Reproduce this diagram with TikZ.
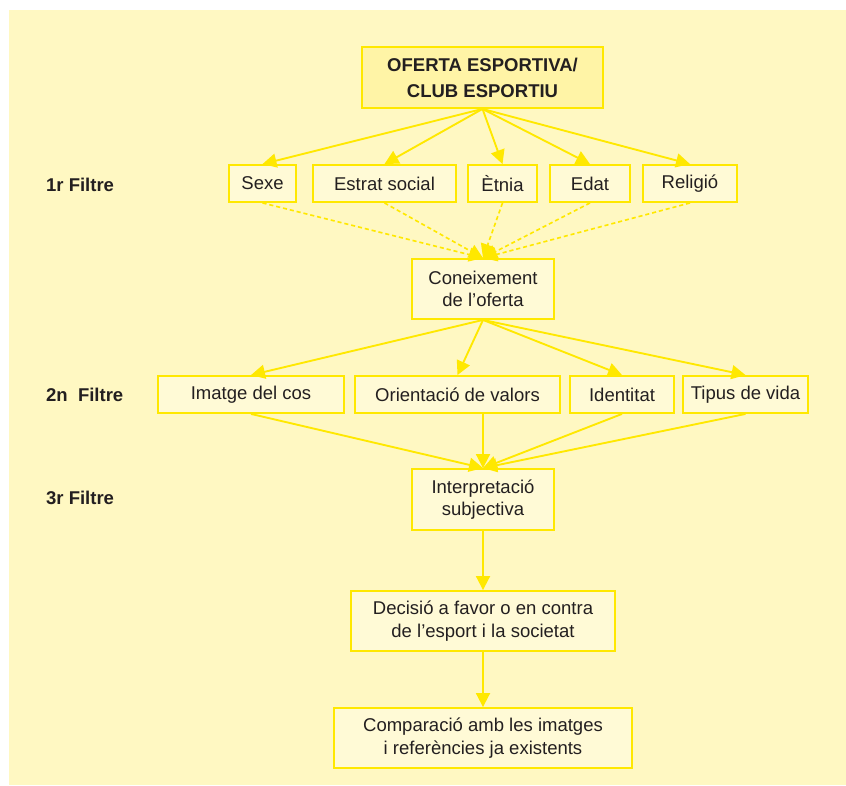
\documentclass[tikz,border=0pt]{standalone}
\usepackage{fontspec}
\setmainfont{Liberation Sans}
\usepackage{tikz}
\usetikzlibrary{arrows.meta}

\newcommand{\pix}{0.03cm}
\definecolor{gelb}{RGB}{255,232,0}
\definecolor{hintergrund}{RGB}{255,248,194}
\definecolor{kasten}{RGB}{255,250,214}
\definecolor{kastenoben}{RGB}{255,244,166}
\definecolor{schrift}{RGB}{35,31,32}

\tikzset{
  kasten/.style={draw=gelb, fill=kasten, line width=1.6pt, inner sep=0pt,
    text=schrift, align=center, font=\fontsize{15.8pt}{19pt}\selectfont},
  filtre/.style={anchor=west, text=schrift, font=\fontsize{15.8pt}{19pt}\selectfont\bfseries},
  pfeil/.style={draw=gelb, line width=1.6pt, -{Triangle[width=0.42cm,length=0.42cm]}},
  punkte/.style={pfeil, line width=1.4pt, dash pattern=on 3.5pt off 2.5pt},
}

\begin{document}
\begin{tikzpicture}[x=0.03cm, y=-0.03cm]
    \useasboundingbox (0,0) rectangle (846,785);
    % Hintergrund
    \fill[hintergrund] (9,10) rectangle (846,785);
    % Angebot
    \node[kasten, fill=kastenoben, font=\fontsize{15.8pt}{22pt}\selectfont\bfseries,
      minimum width=241*\pix, minimum height=61*\pix] (oferta) at (482.5,77.5)
      {OFERTA ESPORTIVA/\\CLUB ESPORTIU};
    % 1r Filtre
    \node[filtre] (filtre1) at (42,185) {1r Filtre};
    \node[kasten, minimum width=67*\pix, minimum height=37*\pix] (sexe) at (262.5,183.5) {Sexe};
    \node[kasten, minimum width=143*\pix, minimum height=37*\pix] (estrat) at (384.5,183.5) {Estrat social};
    \node[kasten, minimum width=69*\pix, minimum height=37*\pix] (etnia) at (502.5,183.5) {Ètnia};
    \node[kasten, minimum width=80*\pix, minimum height=37*\pix] (edat) at (590,183.5) {Edat};
    \node[kasten, minimum width=94*\pix, minimum height=37*\pix] (religio) at (690,183.5) {Religió};
    \draw[pfeil] (oferta.south) -- (sexe.north);
    \draw[pfeil] (oferta.south) -- (estrat.north);
    \draw[pfeil] (oferta.south) -- (etnia.north);
    \draw[pfeil] (oferta.south) -- (edat.north);
    \draw[pfeil] (oferta.south) -- (religio.north);
    % Coneixement
    \node[kasten, minimum width=142*\pix, minimum height=60*\pix] (coneix) at (483,289)
      {Coneixement\\de l’oferta};
    \draw[punkte] (sexe.south) -- (coneix.north);
    \draw[punkte] (estrat.south) -- (coneix.north);
    \draw[punkte] (etnia.south) -- (coneix.north);
    \draw[punkte] (edat.south) -- (coneix.north);
    \draw[punkte] (religio.south) -- (coneix.north);
    % 2n Filtre
    \node[filtre] (filtre2) at (42,395) {2n\ \ Filtre};
    \node[kasten, minimum width=186*\pix, minimum height=37*\pix] (imatge) at (251,394.5) {Imatge del cos};
    \node[kasten, minimum width=205*\pix, minimum height=37*\pix] (orient) at (457.5,394.5) {Orientació de valors};
    \node[kasten, minimum width=104*\pix, minimum height=37*\pix] (ident) at (622,394.5) {Identitat};
    \node[kasten, minimum width=125*\pix, minimum height=37*\pix] (tipus) at (745.5,394.5) {Tipus de vida};
    \draw[pfeil] (coneix.south) -- (imatge.north);
    \draw[pfeil] (coneix.south) -- (orient.north);
    \draw[pfeil] (coneix.south) -- (ident.north);
    \draw[pfeil] (coneix.south) -- (tipus.north);
    % 3r Filtre
    \node[filtre] (filtre3) at (42,498) {3r Filtre};
    \node[kasten, minimum width=142*\pix, minimum height=61*\pix] (interp) at (483,499.5)
      {Interpretació\\subjectiva};
    \draw[pfeil] (imatge.south) -- (interp.north);
    \draw[pfeil] (interp.north |- orient.south) -- (interp.north);
    \draw[pfeil] (ident.south) -- (interp.north);
    \draw[pfeil] (tipus.south) -- (interp.north);
    % Decisio
    \node[kasten, minimum width=264*\pix, minimum height=60*\pix] (decisio) at (483,621)
      {Decisió a favor o en contra\\de l’esport i la societat};
    \node[kasten, minimum width=298*\pix, minimum height=60*\pix] (compar) at (483,738)
      {Comparació amb les imatges\\i referències ja existents};
    \draw[pfeil] (interp.south) -- (decisio.north);
    \draw[pfeil] (decisio.south) -- (compar.north);
\end{tikzpicture}
\end{document}
